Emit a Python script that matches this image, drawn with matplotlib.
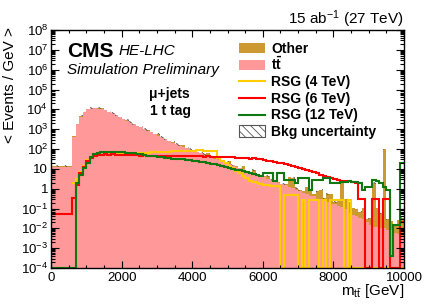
import numpy as np
import matplotlib
matplotlib.use("Agg")
import matplotlib.pyplot as plt
from matplotlib.patches import Rectangle
from matplotlib.lines import Line2D
from matplotlib.ticker import LogLocator, MultipleLocator, FuncFormatter, NullFormatter

plt.rcParams['font.family'] = ['Liberation Sans', 'DejaVu Sans']
plt.rcParams['mathtext.fontset'] = 'custom'
plt.rcParams['mathtext.rm'] = 'Liberation Sans'
plt.rcParams['mathtext.it'] = 'Liberation Sans:italic'
plt.rcParams['mathtext.bf'] = 'Liberation Sans:bold'
plt.rcParams['hatch.linewidth'] = 0.6

# ---------------- data (100 bins of 100 GeV, 0-10000 GeV) ----------------
bin_lo = 0.0
bin_hi = 10000.0
n_bins = 100

ttbar = [13, 13, 13, 13, 13, 13, 420, 1800, 4300, 7600,
         10500, 11500, 11500, 11000, 10000, 9000, 7500, 6200, 5000, 4000,
         3200, 2700, 2200, 1800, 1500, 1250, 1050, 850, 700, 560,
         470, 400, 330, 250, 210, 180, 150, 128, 110, 95,
         80, 70, 60, 52, 45, 38, 33, 29, 25, 21,
         18, 15.5, 13, 11, 9.5, 8, 7, 6, 5, 4.3,
         3.7, 3.2, 2.7, 2.3, 2.0, 1.7, 1.45, 1.25, 1.05, 0.9,
         0.78, 0.6, 0.56, 0.45, 0.41, 0.3, 0.3, 0.24, 0.22, 0.17,
         0.16, 0.13, 0.12, 0.1, 0.06, 0.045, 0.04, 0.035, 0.03, 0.02,
         0.015, 0.012, 0.012, 0.01, 0.01, 0.008, 0.008, 0.006, 0.005, 0.004]

other = [0.3, 0.3, 0.3, 0.3, 0.3, 0.3, 10, 40, 90, 150,
         200, 230, 230, 230, 1800, 180, 150, 120, 100, 80,
         65, 55, 45, 36, 30, 25, 21, 17, 14, 11,
         120, 8, 7, 5, 4.5, 4, 3.3, 40, 2.4, 2,
         1.7, 1.5, 1.3, 1.1, 18, 0.8, 0.7, 12, 0.5, 0.45,
         8, 0.35, 0.3, 0.25, 5, 0.2, 0.15, 3, 0.1, 0.1,
         0.8, 1.0, 0.1, 0.1, 0.1, 0.1, 0.2, 2.5, 2.5, 0.2,
         0.1, 0.2, 0.6, 0.3, 0.1, 0.5, 0.6, 0.1, 0.3, 0.4,
         0.05, 0.1, 2.6, 0.2, 0.15, 0.06, 0.05, 0.03, 0.08, 0.01,
         0.02, 2.0, 0.1, 0.05, 100, 0.02, 0.015, 0.01, 0.02, 0.03]

rsg4 = [0, 0, 0, 0, 0, 0, 2, 3, 7, 14,
        28, 38, 45, 50, 52, 55, 55, 58, 57, 58,
        60, 60, 62, 62, 63, 65, 64, 66, 68, 70,
        70, 72, 73, 72, 75, 78, 80, 79, 82, 82,
        84, 85, 86, 84, 83, 80, 78, 35, 26, 19,
        14, 11, 8, 6, 4.5, 3.5, 2.5, 2.1, 2.0, 1.8,
        1.6, 1.6, 1.3, 1.3, 1.3, 0, 0.5, 0.5, 0.5, 0.5,
        0, 0.27, 0, 0.27, 0.27, 0.27, 0, 0.27, 0, 0.27,
        0.27, 0.27, 0.27, 0, 0.27, 0, 0, 0, 0, 0,
        0, 0, 0, 0, 0, 0, 0, 0, 0, 0]

rsg6 = [0.05, 0.05, 0.05, 0.05, 0.05, 0.05, 0.33, 1.5, 6, 13,
        25, 35, 45, 50, 52, 55, 52, 55, 50, 52,
        50, 48, 52, 48, 50, 46, 48, 45, 47, 44,
        45, 47, 44, 46, 45, 44, 46, 43, 45, 44,
        43, 42, 44, 41, 42, 40, 41, 39, 40, 38,
        38, 39, 37, 36, 37, 35, 33, 34, 31, 30,
        27, 25, 24, 22, 20, 19, 17, 16, 14, 12,
        11, 10, 9, 8, 7, 6, 5, 4.5, 4, 3.5,
        3, 2.7, 2.5, 2.4, 2.3, 2.2, 2.0, 0.3, 0.3, 0,
        0, 0.3, 0.3, 0, 0.3, 0.3, 0, 0, 0, 0.02]

rsg12 = [0, 0, 0, 0, 0, 0, 0, 2, 5, 11,
         20, 40, 55, 65, 70, 72, 70, 72, 70, 68,
         68, 65, 64, 60, 57, 53, 50, 47, 44, 42,
         40, 38, 36, 34, 33, 31, 32, 30, 28, 27,
         26, 25, 23, 22, 20, 18, 17, 15, 14, 12,
         11, 10, 9, 8.5, 7.5, 7, 6, 5.5, 5, 4.5,
         6, 6, 6, 2.3, 6, 6, 2.8, 2.8, 2.8, 2,
         3.5, 3.5, 3.5, 0.9, 2.8, 2.8, 2.8, 3.5, 3.5, 2,
         2, 2, 2.1, 2.1, 2.5, 2.1, 2.1, 2.0, 0.9, 1.2,
         1.2, 2.8, 2.4, 2.0, 1.2, 0.9, 0.0004, 0.015, 0.015, 20]

# ---------------- styling ----------------
C_OTHER = '#cc9933'
C_TT = '#ff9999'
C_R4 = '#ffcc00'
C_R6 = '#ff0000'
C_R12 = '#117711'
YMIN, YMAX = 1e-4, 1e8

W, H = 425, 305
fig = plt.figure(figsize=(W / 100, H / 100), dpi=100)


def fx(x):
    return x / W


def fy(y):
    return 1 - y / H


ax = fig.add_axes([fx(51), fy(268), (404 - 51) / W, (268 - 30) / H])

edges = np.linspace(bin_lo, bin_hi, n_bins + 1)
tt = np.array(ttbar, float)
ot = np.array(other, float)
total = tt + ot

ax.stairs(total, edges, baseline=1e-7, fill=True, color=C_OTHER, lw=0)
ax.stairs(tt, edges, baseline=1e-7, fill=True, color=C_TT, lw=0)
ax.stairs(total * 1.12, edges, baseline=total * 0.89, fill=True,
          facecolor='none', edgecolor='#555555', hatch='\\\\\\\\', lw=0)


def draw_sig(vals, color):
    v = np.array(vals, float)
    start = int(np.argmax(v > 0)) if vals is rsg4 else 0
    v = np.where(v > 0, v, YMIN)
    ax.stairs(v[start:], edges[start:], color=color, lw=1.5, baseline=None)


draw_sig(rsg4, C_R4)
draw_sig(rsg6, C_R6)
draw_sig(rsg12, C_R12)

ax.set_xlim(bin_lo, bin_hi)
ax.set_yscale('log')
ax.set_ylim(YMIN, YMAX)


def yfmt(v, pos):
    e = int(round(np.log10(v)))
    if e == 0:
        return '1'
    if e == 1:
        return '10'
    return r'$10^{%d}$' % e


ax.xaxis.set_major_locator(MultipleLocator(2000))
ax.xaxis.set_minor_locator(MultipleLocator(500))
ax.yaxis.set_major_locator(LogLocator(base=10, numticks=30))
ax.yaxis.set_minor_locator(LogLocator(base=10, subs=np.arange(2, 10), numticks=30))
ax.yaxis.set_major_formatter(FuncFormatter(yfmt))
ax.yaxis.set_minor_formatter(NullFormatter())
ax.tick_params(axis='both', which='both', direction='in', top=True, right=True,
               labelsize=9.5, width=0.8)
ax.tick_params(axis='x', which='major', length=5, pad=3)
ax.tick_params(axis='x', which='minor', length=2.5)
ax.tick_params(axis='y', which='major', length=6, pad=2)
ax.tick_params(axis='y', which='minor', length=3)
for s in ax.spines.values():
    s.set_linewidth(1.0)

# ---------------- texts ----------------
fig.text(fx(404), fy(24), r'15 ab$^{-1}$ (27 TeV)', ha='right', va='baseline', fontsize=11)
fig.text(fx(67), fy(57), 'CMS', ha='left', va='baseline', fontsize=15, fontweight='bold')
fig.text(fx(119), fy(55), 'HE-LHC', ha='left', va='baseline', fontsize=11, style='italic')
fig.text(fx(67), fy(74), 'Simulation Preliminary', ha='left', va='baseline', fontsize=11, style='italic')
fig.text(fx(169), fy(98), 'μ+jets', ha='center', va='baseline', fontsize=10, fontweight='bold')
fig.text(fx(170), fy(115), '1 t tag', ha='center', va='baseline', fontsize=10, fontweight='bold')
fig.text(fx(10), fy(27), '< Events / GeV >', rotation=90, ha='center', va='top', fontsize=11)
fig.text(fx(404), fy(295), r'm$_{\mathrm{t\bar{t}}}$ [GeV]', ha='right', va='baseline', fontsize=11)

# ---------------- legend ----------------
bx0, bx1 = 239, 265
rows = [48, 64.5, 81, 98, 114.5, 131]
labels = ['Other', r'$\mathbf{t\bar{t}}$', 'RSG (4 TeV)', 'RSG (6 TeV)', 'RSG (12 TeV)', 'Bkg uncertainty']
fig.patches.append(Rectangle((fx(bx0), fy(rows[0] + 5)), (bx1 - bx0) / W, 10 / H,
                             transform=fig.transFigure, color=C_OTHER, lw=0))
fig.patches.append(Rectangle((fx(bx0), fy(rows[1] + 5)), (bx1 - bx0) / W, 10 / H,
                             transform=fig.transFigure, color=C_TT, lw=0))
for yy, cc in zip(rows[2:5], [C_R4, C_R6, C_R12]):
    fig.lines.append(Line2D([fx(bx0), fx(bx1)], [fy(yy), fy(yy)], transform=fig.transFigure,
                            color=cc, lw=1.5))
fig.patches.append(Rectangle((fx(bx0), fy(rows[5] + 6)), (bx1 - bx0) / W, 12 / H,
                             transform=fig.transFigure, facecolor='white', edgecolor='#555555',
                             hatch='\\\\\\\\', lw=0.8))
for yy, lab in zip(rows, labels):
    fig.text(fx(271), fy(yy + 5), lab, ha='left', va='baseline', fontsize=10, fontweight='bold')

fig.savefig('out.png', dpi=100)
